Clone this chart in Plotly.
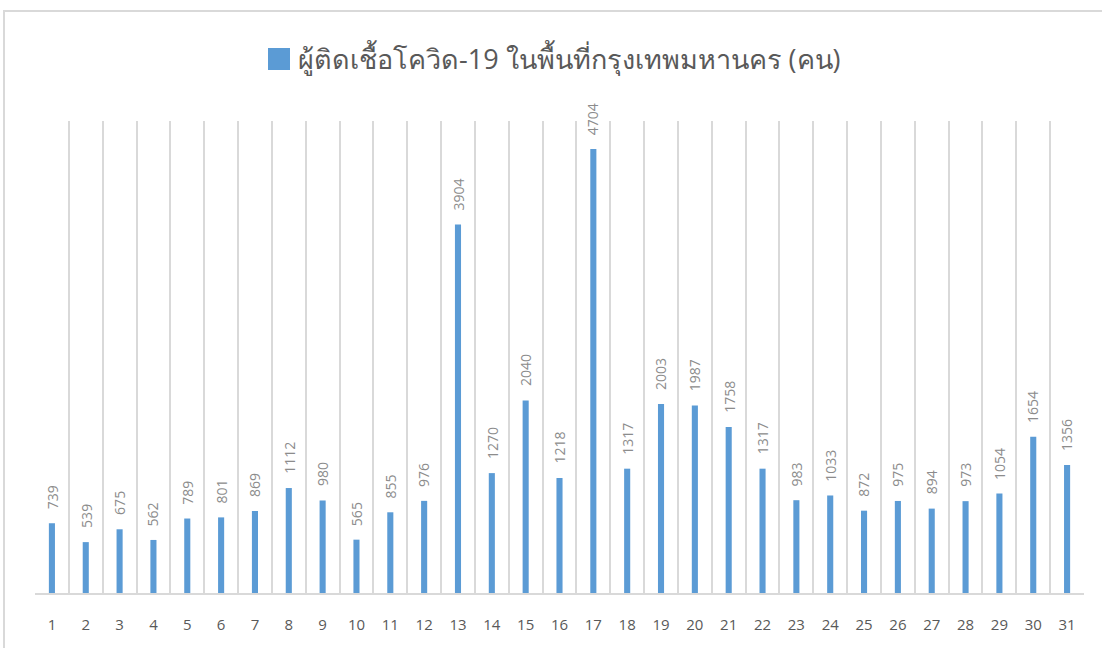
import plotly.graph_objects as go

days = [str(d) for d in range(1, 32)]
cases = [739, 539, 675, 562, 789, 801, 869, 1112, 980, 565, 855, 976, 3904,
         1270, 2040, 1218, 4704, 1317, 2003, 1987, 1758, 1317, 983, 1033,
         872, 975, 894, 973, 1054, 1654, 1356]
series_name = "ผู้ติดเชื้อโควิด-19 ในพื้นที่กรุงเทพมหานคร (คน)"
bar_color = "#5b9bd5"

W, H = 1102, 648
ML, MR, MT, MB = 35, 18, 121, 55
pw, ph = W - ML - MR, H - MT - MB


def px_x(p):
    return (p - ML) / pw


def px_y(p):
    return (H - MB - p) / ph


fig = go.Figure()
fig.add_trace(go.Bar(
    x=days, y=cases, name=series_name,
    marker=dict(color=bar_color, line=dict(width=0)),
    cliponaxis=False, showlegend=False,
))

# vertical value labels above each bar (category axis: x is the category index)
for i, v in enumerate(cases):
    fig.add_annotation(x=i, y=v, text=str(v), textangle=-90, showarrow=False,
                       xanchor="center", yanchor="bottom", yshift=12,
                       font=dict(size=14, color="#8c8c8c", family="Open Sans"))

# legend: large square swatch followed by the series name
sw_left, sw_size, sw_mid = 268, 22, 59
fig.add_shape(type="rect", xref="paper", yref="paper",
              x0=px_x(sw_left), x1=px_x(sw_left + sw_size),
              y0=px_y(sw_mid + sw_size / 2), y1=px_y(sw_mid - sw_size / 2),
              fillcolor=bar_color, line=dict(width=0))
fig.add_annotation(xref="paper", yref="paper",
                   x=px_x(sw_left + sw_size + 6), y=px_y(sw_mid - 1),
                   text=series_name, showarrow=False,
                   xanchor="left", yanchor="middle",
                   font=dict(size=27, color="#595959", family="Open Sans"))

# outer frame of the chart area
fig.add_shape(type="rect", xref="paper", yref="paper",
              x0=px_x(4), x1=px_x(W + 10), y0=px_y(H + 10), y1=px_y(11),
              line=dict(color="#d9d9d9", width=2), layer="below")

fig.update_layout(
    width=W, height=H,
    margin=dict(l=ML, r=MR, t=MT, b=MB),
    paper_bgcolor="white", plot_bgcolor="white",
    bargap=0.82,
    showlegend=False,
    xaxis=dict(type="category", categoryorder="array", categoryarray=days,
               range=[-0.5, len(days) - 0.5],
               tickson="boundaries", showgrid=True,
               gridcolor="#d9d9d9", gridwidth=2, showline=True,
               linecolor="#d9d9d9", linewidth=2, ticks="",
               tickfont=dict(size=15, color="#595959", family="Open Sans"),
               ticklabelstandoff=17, zeroline=False),
    yaxis=dict(range=[0, 5000], showgrid=False, showticklabels=False,
               zeroline=False, showline=False, ticks=""),
)

fig.write_html("out.html")
